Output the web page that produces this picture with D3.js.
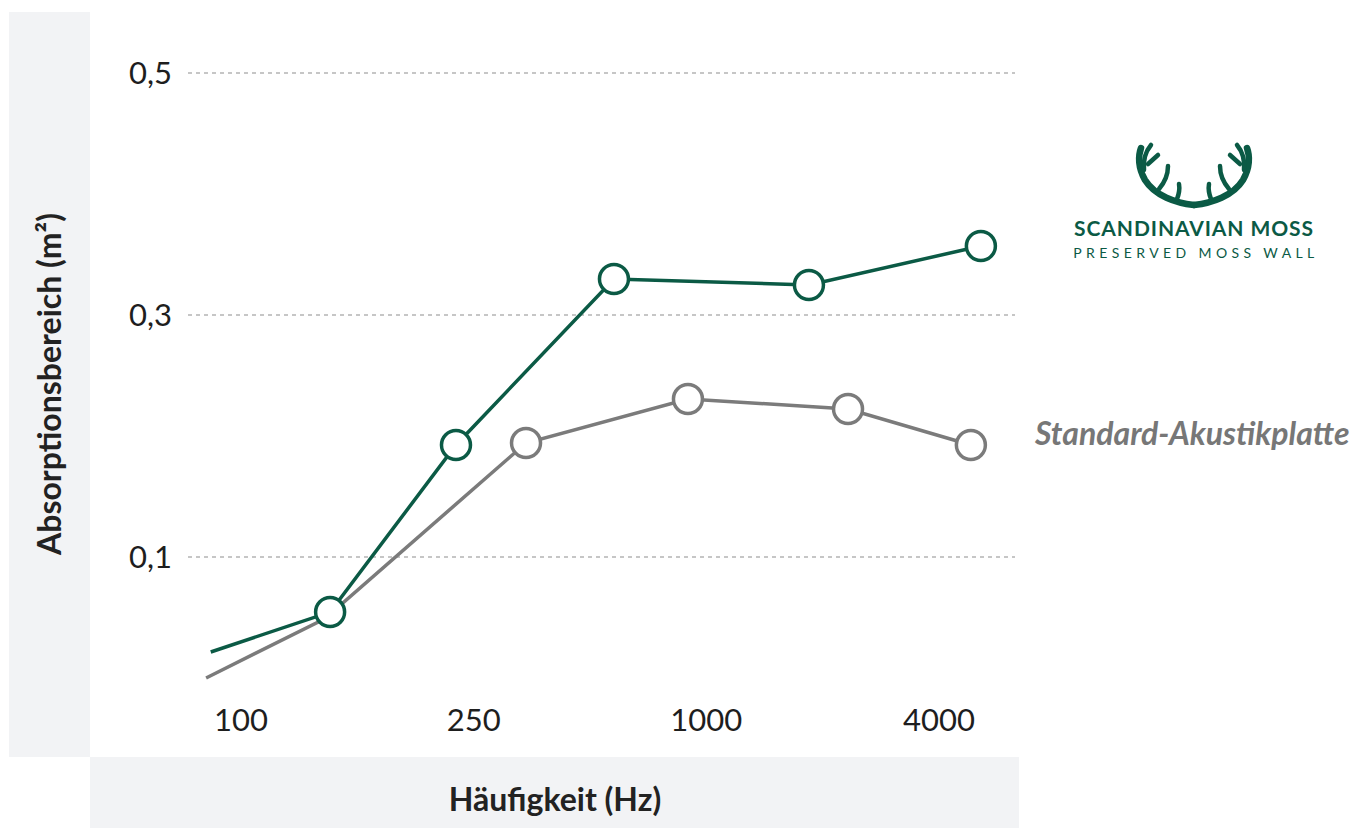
<!DOCTYPE html>
<html>
<head>
<meta charset="utf-8">
<script src="https://cdn.jsdelivr.net/npm/d3@7"></script>
<style>
    body { margin: 0; background: #fff; }
    svg { display: block; font-family: Lato, 'Open Sans', sans-serif; }
</style>
</head>
<body>
<div id="chart"></div>
<script>
// tick labels (categories) and gridline values
const xTicks = ['100', '250', '1000', '4000'];
const yTicks = [0.1, 0.3, 0.5];

// Scandinavian Moss series (x in tick-index units)
const mossX = [-0.13, 0.383, 0.924, 1.603, 2.441, 3.18];
const mossY = [0.0215, 0.0545, 0.1926, 0.3298, 0.3248, 0.357];
const mossMarker = [false, true, true, true, true, true];

// Standard-Akustikplatte series
const stdX = [-0.15, 0.36, 1.225, 1.921, 2.609, 3.137];
const stdY = [0, 0.049, 0.1942, 0.2306, 0.2223, 0.1926];
const stdMarker = [false, false, true, true, true, true];

const width = 1368;
const height = 828;
const green = '#0b5a45';
const grey = '#7b7b7b';

const svg = d3
    .select('#chart')
    .append('svg')
    .attr('width', width)
    .attr('height', height);

// grey panels behind axis titles
svg.append('rect')
    .attr('x', 9).attr('y', 12)
    .attr('width', 81).attr('height', 745)
    .attr('fill', '#f2f3f5');
svg.append('rect')
    .attr('x', 90).attr('y', 757)
    .attr('width', 929).attr('height', 71)
    .attr('fill', '#f2f3f5');

const xScale = d3.scaleLinear().domain([0, 3]).range([241, 939]);
const yScale = d3.scaleLinear().domain([0, 0.5]).range([678, 73]);

// gridlines
svg.append('g')
    .selectAll('line')
    .data(yTicks)
    .join('line')
    .attr('x1', 188)
    .attr('x2', 1015)
    .attr('y1', (d) => yScale(d))
    .attr('y2', (d) => yScale(d))
    .attr('stroke', '#b4b4b4')
    .attr('stroke-width', 1.3)
    .attr('stroke-dasharray', '4,4');

// y tick labels
svg.append('g')
    .selectAll('text')
    .data(yTicks)
    .join('text')
    .attr('x', 172)
    .attr('y', (d) => yScale(d))
    .attr('dy', '0.35em')
    .attr('text-anchor', 'end')
    .attr('font-size', '31px')
    .attr('fill', '#1e1e1e')
    .text((d) => d3.format('.1f')(d).replace('.', ','));

// x tick labels
svg.append('g')
    .selectAll('text')
    .data(xTicks)
    .join('text')
    .attr('x', (d, i) => xScale(i))
    .attr('y', 720)
    .attr('dy', '0.35em')
    .attr('text-anchor', 'middle')
    .attr('font-size', '31px')
    .attr('fill', '#1e1e1e')
    .text((d) => d);

// axis titles
svg.append('text')
    .attr('transform', 'translate(50, 384) rotate(-90)')
    .attr('dy', '0.35em')
    .attr('text-anchor', 'middle')
    .attr('font-size', '32px')
    .attr('font-weight', 'bold')
    .attr('fill', '#222')
    .text('Absorptionsbereich (m²)');

svg.append('text')
    .attr('x', 555)
    .attr('y', 800)
    .attr('dy', '0.35em')
    .attr('text-anchor', 'middle')
    .attr('font-size', '32px')
    .attr('font-weight', 'bold')
    .attr('fill', '#222')
    .text('Häufigkeit (Hz)');

const line = d3
    .line()
    .x((d) => xScale(d.x))
    .y((d) => yScale(d.y));

function drawSeries(xs, ys, markers, color) {
    const pts = xs.map((x, i) => ({ x: x, y: ys[i], m: markers[i] }));
    const g = svg.append('g');
    g.append('path')
        .datum(pts)
        .attr('d', line)
        .attr('fill', 'none')
        .attr('stroke', color)
        .attr('stroke-width', 3.5);
    g.selectAll('circle')
        .data(pts.filter((d) => d.m))
        .join('circle')
        .attr('cx', (d) => xScale(d.x))
        .attr('cy', (d) => yScale(d.y))
        .attr('r', 14.5)
        .attr('fill', '#fff')
        .attr('stroke', color)
        .attr('stroke-width', 3.5);
}

drawSeries(stdX, stdY, stdMarker, grey);
drawSeries(mossX, mossY, mossMarker, green);

// legend label for the grey series
svg.append('text')
    .attr('x', 1035)
    .attr('y', 434)
    .attr('dy', '0.35em')
    .attr('font-size', '32px')
    .attr('font-weight', 'bold')
    .attr('font-style', 'italic')
    .attr('fill', '#777')
    .text('Standard-Akustikplatte');

// logo: antlers + name
const logo = svg.append('g');
const antler = [
    'M1194,205 C1176,203 1155,196 1145,180 C1138,168 1138,156 1141,148',
    'M1144,170 C1143,160 1146,151 1151,145',
    'M1148,164 L1158,155',
    'M1159,189 C1165,182 1168,175 1168,166',
    'M1177,199 C1179,194 1180,190 1179,184',
];
['left', 'right'].forEach((side) => {
    logo.append('g')
        .attr(
            'transform',
            side === 'left' ? null : 'translate(2388,0) scale(-1,1)'
        )
        .selectAll('path')
        .data(antler)
        .join('path')
        .attr('d', (d) => d)
        .attr('fill', 'none')
        .attr('stroke', green)
        .attr('stroke-width', (d, i) => (i === 0 ? 6.5 : 4.5))
        .attr('stroke-linecap', 'round');
});
logo.append('path')
    .attr('d', 'M1172,199 Q1194,214 1216,199 L1194,208 Z')
    .attr('fill', green);

logo.append('text')
    .attr('x', 1194)
    .attr('y', 229)
    .attr('dy', '0.35em')
    .attr('text-anchor', 'middle')
    .attr('font-size', '21px')
    .attr('font-weight', 'bold')
    .attr('letter-spacing', '0.9px')
    .attr('fill', green)
    .text('SCANDINAVIAN MOSS');

logo.append('text')
    .attr('x', 1196)
    .attr('y', 253)
    .attr('dy', '0.35em')
    .attr('text-anchor', 'middle')
    .attr('font-size', '14px')
    .attr('letter-spacing', '4.4px')
    .attr('fill', green)
    .text('PRESERVED MOSS WALL');
</script>
</body>
</html>
